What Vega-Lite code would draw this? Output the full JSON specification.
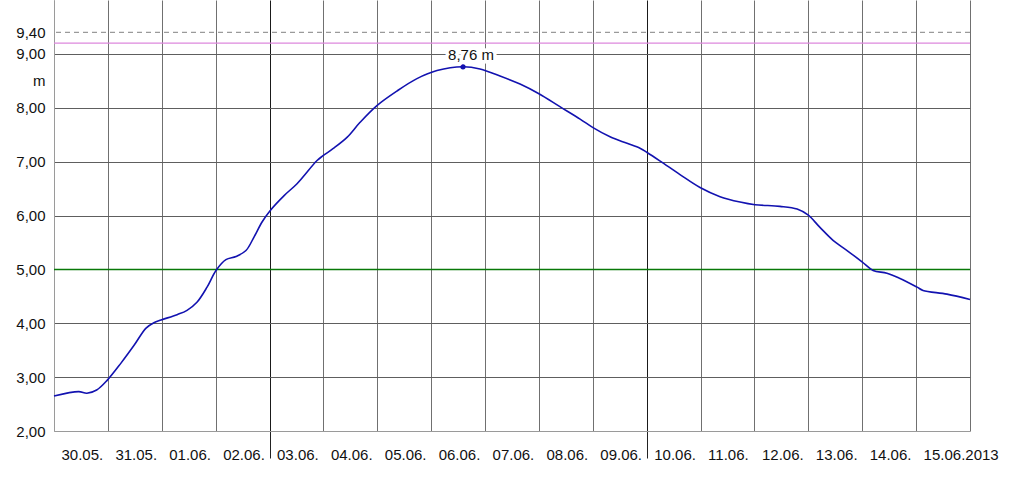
{
  "$schema": "https://vega.github.io/schema/vega-lite/v6.json",
  "width": 916,
  "height": 431,
  "autosize": {"type": "none"},
  "padding": {"left": 54, "top": 0, "right": 54, "bottom": 54},
  "background": "white",
  "config": {"view": {"stroke": null}, "font": "Liberation Sans"},
  "datasets": {
    "level": [
      {"t": "2013-05-30T00:00:00Z", "value": 2.65},
      {"t": "2013-05-30T11:00:00Z", "value": 2.73},
      {"t": "2013-05-30T14:40:00Z", "value": 2.70},
      {"t": "2013-05-30T19:00:00Z", "value": 2.76},
      {"t": "2013-05-30T23:40:00Z", "value": 2.94},
      {"t": "2013-05-31T05:50:00Z", "value": 3.26},
      {"t": "2013-05-31T11:40:00Z", "value": 3.59},
      {"t": "2013-05-31T17:00:00Z", "value": 3.91},
      {"t": "2013-05-31T20:30:00Z", "value": 4.01},
      {"t": "2013-05-31T23:40:00Z", "value": 4.06},
      {"t": "2013-06-01T06:50:00Z", "value": 4.16},
      {"t": "2013-06-01T11:15:00Z", "value": 4.24},
      {"t": "2013-06-01T15:40:00Z", "value": 4.39},
      {"t": "2013-06-01T20:10:00Z", "value": 4.67},
      {"t": "2013-06-02T00:10:00Z", "value": 4.98},
      {"t": "2013-06-02T04:35:00Z", "value": 5.18},
      {"t": "2013-06-02T09:05:00Z", "value": 5.24},
      {"t": "2013-06-02T13:30:00Z", "value": 5.35},
      {"t": "2013-06-02T17:05:00Z", "value": 5.60},
      {"t": "2013-06-02T20:40:00Z", "value": 5.88},
      {"t": "2013-06-03T00:15:00Z", "value": 6.09},
      {"t": "2013-06-03T06:30:00Z", "value": 6.37},
      {"t": "2013-06-03T12:15:00Z", "value": 6.59},
      {"t": "2013-06-03T21:10:00Z", "value": 7.02},
      {"t": "2013-06-03T23:50:00Z", "value": 7.11},
      {"t": "2013-06-04T04:15:00Z", "value": 7.24},
      {"t": "2013-06-04T10:30:00Z", "value": 7.45},
      {"t": "2013-06-04T16:20:00Z", "value": 7.73},
      {"t": "2013-06-04T23:50:00Z", "value": 8.04},
      {"t": "2013-06-05T08:45:00Z", "value": 8.31},
      {"t": "2013-06-05T17:40:00Z", "value": 8.54},
      {"t": "2013-06-06T02:35:00Z", "value": 8.69},
      {"t": "2013-06-06T14:10:00Z", "value": 8.76},
      {"t": "2013-06-06T21:45:00Z", "value": 8.72},
      {"t": "2013-06-07T06:40:00Z", "value": 8.59},
      {"t": "2013-06-07T15:35:00Z", "value": 8.44},
      {"t": "2013-06-08T00:00:00Z", "value": 8.26},
      {"t": "2013-06-08T09:20:00Z", "value": 8.02},
      {"t": "2013-06-08T18:20:00Z", "value": 7.79},
      {"t": "2013-06-09T00:05:00Z", "value": 7.63},
      {"t": "2013-06-09T07:40:00Z", "value": 7.46},
      {"t": "2013-06-09T15:15:00Z", "value": 7.34},
      {"t": "2013-06-09T21:00:00Z", "value": 7.25},
      {"t": "2013-06-10T00:10:00Z", "value": 7.17},
      {"t": "2013-06-10T06:00:00Z", "value": 7.01},
      {"t": "2013-06-10T14:50:00Z", "value": 6.76},
      {"t": "2013-06-10T23:45:00Z", "value": 6.52},
      {"t": "2013-06-11T08:40:00Z", "value": 6.35},
      {"t": "2013-06-11T17:35:00Z", "value": 6.25},
      {"t": "2013-06-12T00:15:00Z", "value": 6.20},
      {"t": "2013-06-12T11:20:00Z", "value": 6.17},
      {"t": "2013-06-12T19:00:00Z", "value": 6.12},
      {"t": "2013-06-12T23:50:00Z", "value": 6.01},
      {"t": "2013-06-13T05:10:00Z", "value": 5.78},
      {"t": "2013-06-13T11:00:00Z", "value": 5.54},
      {"t": "2013-06-13T17:15:00Z", "value": 5.35},
      {"t": "2013-06-13T23:55:00Z", "value": 5.14},
      {"t": "2013-06-14T04:50:00Z", "value": 4.98},
      {"t": "2013-06-14T11:00:00Z", "value": 4.93},
      {"t": "2013-06-14T16:50:00Z", "value": 4.83},
      {"t": "2013-06-15T00:25:00Z", "value": 4.67},
      {"t": "2013-06-15T03:05:00Z", "value": 4.61},
      {"t": "2013-06-15T13:45:00Z", "value": 4.54},
      {"t": "2013-06-16T00:00:00Z", "value": 4.44}
    ],
    "peak": [
      {"t": "2013-06-06T14:10:00Z", "value": 8.76, "label": "8,76 m"}
    ]
  },
  "layer": [
    {
      "data": {"values": [{"value": 9.4}]},
      "mark": {"type": "rule", "color": "#9a9a9a", "strokeDash": [5, 4], "strokeWidth": 1.2},
      "encoding": {
        "y": {
          "field": "value",
          "type": "quantitative",
          "scale": {"domain": [2, 10], "nice": false, "zero": false},
          "axis": {
            "title": null,
            "values": [2, 3, 4, 5, 6, 7, 8, 8.5, 9, 9.4],
            "labelExpr": "datum.value == 8.5 ? 'm' : replace(format(datum.value, '.2f'), '.', ',')",
            "labelFont": "Liberation Sans",
            "labelFontSize": 15,
            "labelColor": "#111",
            "labelPadding": 9,
            "ticks": false,
            "domainColor": "#9a9a9a",
            "grid": true,
            "gridColor": {
              "condition": {"test": "datum.value == 8.5 || datum.value == 9.4 || datum.value == 2", "value": "transparent"},
              "value": "#5e5e5e"
            },
            "gridWidth": 1
          }
        }
      }
    },
    {
      "data": {"values": [{"value": 9.2}]},
      "mark": {"type": "rule", "color": "#dd88dd", "strokeWidth": 1.2},
      "encoding": {"y": {"field": "value", "type": "quantitative"}}
    },
    {
      "data": {"values": [{"value": 5.0}]},
      "mark": {"type": "rule", "color": "#087808", "strokeWidth": 1.5},
      "encoding": {"y": {"field": "value", "type": "quantitative"}}
    },
    {
      "data": {"name": "level"},
      "mark": {"type": "line", "color": "#1212b0", "strokeWidth": 1.6, "interpolate": "catmull-rom"},
      "encoding": {
        "x": {
          "field": "t",
          "type": "temporal",
          "scale": {
            "type": "utc",
            "domain": [
              {"year": 2013, "month": 5, "date": 30, "utc": true},
              {"year": 2013, "month": 6, "date": 16, "utc": true}
            ],
            "nice": false
          },
          "axis": {
            "title": null,
            "values": [
              {"year": 2013, "month": 5, "date": 30, "utc": true},
              {"year": 2013, "month": 5, "date": 31, "utc": true},
              {"year": 2013, "month": 6, "date": 1, "utc": true},
              {"year": 2013, "month": 6, "date": 2, "utc": true},
              {"year": 2013, "month": 6, "date": 3, "utc": true},
              {"year": 2013, "month": 6, "date": 4, "utc": true},
              {"year": 2013, "month": 6, "date": 5, "utc": true},
              {"year": 2013, "month": 6, "date": 6, "utc": true},
              {"year": 2013, "month": 6, "date": 7, "utc": true},
              {"year": 2013, "month": 6, "date": 8, "utc": true},
              {"year": 2013, "month": 6, "date": 9, "utc": true},
              {"year": 2013, "month": 6, "date": 10, "utc": true},
              {"year": 2013, "month": 6, "date": 11, "utc": true},
              {"year": 2013, "month": 6, "date": 12, "utc": true},
              {"year": 2013, "month": 6, "date": 13, "utc": true},
              {"year": 2013, "month": 6, "date": 14, "utc": true},
              {"year": 2013, "month": 6, "date": 15, "utc": true},
              {"year": 2013, "month": 6, "date": 16, "utc": true}
            ],
            "labelExpr": "utcdate(datum.value) == 16 ? '' : (utcdate(datum.value) == 15 ? '15.06.2013' : utcFormat(datum.value, '%d.%m.'))",
            "labelAlign": "left",
            "labelOffset": 7,
            "labelFlush": false,
            "labelOverlap": false,
            "labelBound": false,
            "labelFont": "Liberation Sans",
            "labelFontSize": 15,
            "labelColor": "#111",
            "labelPadding": -10.5,
            "ticks": true,
            "tickSize": 27,
            "tickColor": {
              "condition": {"test": "utcday(datum.value) == 1", "value": "#222"},
              "value": "transparent"
            },
            "domainColor": "#9a9a9a",
            "grid": true,
            "gridColor": {
              "condition": {"test": "utcday(datum.value) == 1", "value": "#1a1a1a"},
              "value": "#707070"
            },
            "gridWidth": 1
          }
        },
        "y": {"field": "value", "type": "quantitative"}
      }
    },
    {
      "data": {"name": "peak"},
      "mark": {"type": "point", "filled": true, "color": "#1212b0", "size": 28, "opacity": 1},
      "encoding": {
        "x": {"field": "t", "type": "temporal"},
        "y": {"field": "value", "type": "quantitative"}
      }
    },
    {
      "data": {"name": "peak"},
      "mark": {"type": "text", "font": "Liberation Sans", "fontSize": 15, "align": "center", "baseline": "alphabetic", "dx": 8, "dy": -7, "fill": "white", "stroke": "white", "strokeWidth": 7},
      "encoding": {
        "x": {"field": "t", "type": "temporal"},
        "y": {"field": "value", "type": "quantitative"},
        "text": {"field": "label"}
      }
    },
    {
      "data": {"name": "peak"},
      "mark": {"type": "text", "font": "Liberation Sans", "fontSize": 15, "align": "center", "baseline": "alphabetic", "dx": 8, "dy": -7, "color": "#111"},
      "encoding": {
        "x": {"field": "t", "type": "temporal"},
        "y": {"field": "value", "type": "quantitative"},
        "text": {"field": "label"}
      }
    }
  ]
}
